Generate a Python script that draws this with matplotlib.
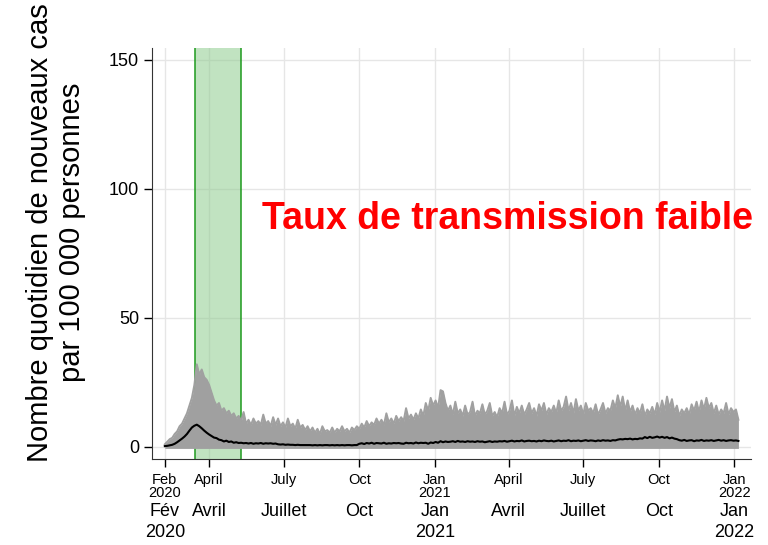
import sys
import numpy as np
import pandas as pd
import matplotlib
matplotlib.use('Agg')
import matplotlib.pyplot as plt
import matplotlib.transforms as mtransforms

# Daily new cases per 100 000, sampled every 3 days from 2020-02-07
START_DATE = '2020-02-07'

# upper edge of the gray band (spread of local rates)
upper = [
    1, 2, 3, 3.5, 5, 6, 8, 9, 11, 13, 16, 19,
    24, 32, 28, 30, 27, 26, 24,
    21, 18, 16, 17, 14, 15, 13, 14, 12, 13, 11, 12, 10,
    13.5, 9, 10.5, 8.5, 11, 9, 10, 8.5, 12.5, 9, 10, 8, 11.5, 8.5,
    11, 8, 9.5, 7.5, 11, 8, 9, 7, 10.5, 7.5, 8.5, 6.5, 8,
    6, 7.5, 5.5, 7, 5, 8, 6, 6.5, 5.5, 7.5, 5.5, 7, 6, 8, 6, 7, 5.5, 7.5, 6.5, 8,
    7, 9, 7.5, 10, 8, 9.5, 8.5, 11, 9, 10.5, 8.5, 13, 9.5, 11, 9,
    12, 10, 11.5, 10, 15, 11, 12.5, 10.5, 13, 11, 14.5, 12,
    17, 14, 19, 16, 18, 15, 22, 21.5, 17, 14,
    16, 12.5, 17.5, 13, 14.5, 12, 16, 12.5, 13.5, 17.5, 12, 14, 13, 16.5, 12.5, 14, 17, 12, 13.5, 11.5, 15,
    13, 17.5, 12.5, 14, 18, 12, 15.5, 13, 16, 12.5,
    14.5, 17, 13, 15, 12, 16.5, 14, 17, 12.5, 15,
    13.5, 16, 13, 18, 14, 15.5, 19.5, 14, 17, 13,
    18.5, 14, 16, 12.5, 17, 14, 15, 13, 16.5, 12.5,
    14.5, 17, 13, 15, 14, 18, 15, 20, 15.5, 19.5,
    14, 18, 13.5, 16, 12.5, 15, 13, 16.5, 12, 14.5,
    13, 15.5, 12.5, 17, 13.5, 18, 14, 19.5, 15, 18.5,
    13.5, 16, 12, 14.5, 13, 15, 12.5, 16.5, 14, 17.5,
    13.5, 18, 14.5, 19, 15, 17, 13, 16, 12.5, 14.5,
    13, 17, 12.5, 15, 13.5, 14.5, 10.5,
]

# national rate (black line)
national = [
    0.3, 0.4, 0.6, 0.8, 1.2, 1.8, 2.5, 3.2, 4, 5, 6.3, 7.5,
    8.2, 8.6, 8, 7.2, 6.3, 5.5, 4.8,
    4.2, 3.6, 3.4, 2.8, 2.6, 2.1, 2.4, 1.9, 2.1, 1.6, 1.8, 1.5, 1.6,
    1.4, 1.5, 1.3, 1.5, 1.2, 1.4, 1.3, 1.5, 1.2, 1.4, 1.3, 1.4, 1.2, 1.3,
    1.0, 0.9, 1.0, 0.8, 0.9, 0.8, 0.8, 0.7, 0.8, 0.7, 0.7, 0.7, 0.7,
    0.7, 0.6, 0.7, 0.6, 0.7, 0.6, 0.7, 0.7, 0.6, 0.7, 0.6, 0.7, 0.6, 0.7, 0.6, 0.7, 0.7, 0.6, 0.7, 0.7,
    1.2, 1.4, 1.1, 1.5, 1.3, 1.6, 1.2, 1.5, 1.4, 1.3, 1.6, 1.2, 1.4, 1.3, 1.5,
    1.4, 1.5, 1.3, 1.2, 1.6, 1.4, 1.5, 1.3, 1.7, 1.4, 1.6, 1.5,
    1.6, 1.2, 1.7, 1.5, 1.9, 1.6, 2.2, 1.8, 2.1, 1.9,
    2.0, 2.2, 1.9, 2.3, 2.0, 2.1, 1.9, 2.2, 2.0, 2.1, 1.9, 2.2, 2.0, 2.1, 1.8, 2.0, 2.2, 1.9, 2.1, 2.0, 2.2,
    2.1, 2.3, 2.0, 2.2, 2.4, 2.1, 2.3, 2.2, 2.5, 2.1,
    2.3, 2.4, 2.2, 2.3, 2.1, 2.4, 2.2, 2.5, 2.3, 2.2,
    2.4, 2.1, 2.3, 2.5, 2.2, 2.4, 2.3, 2.6, 2.2, 2.4,
    2.3, 2.5, 2.2, 2.4, 2.6, 2.3, 2.5, 2.4, 2.2, 2.5,
    2.3, 2.6, 2.4, 2.5, 2.3, 2.6, 2.5, 2.8, 3.0, 2.9,
    3.1, 3.0, 3.2, 2.9, 3.1, 3.0, 3.3, 3.2, 3.8, 3.4,
    3.9, 3.5, 3.7, 4.0, 3.6, 3.9, 3.5, 3.8, 3.3, 3.6,
    3.2, 3.0, 2.6, 2.4, 2.7, 2.3, 2.5, 2.6, 2.2, 2.5,
    2.4, 2.7, 2.3, 2.5, 2.4, 2.6, 2.3, 2.5, 2.7, 2.4,
    2.6, 2.3, 2.5, 2.6, 2.4, 2.5, 2.3,
]

tick_dates = ['2020-02-07', '2020-04-01', '2020-07-01', '2020-10-01', '2021-01-01',
              '2021-04-01', '2021-07-01', '2021-10-01', '2022-01-01']
tick_labels_en = ['Feb\n2020', 'April', 'July', 'Oct', 'Jan\n2021',
                  'April', 'July', 'Oct', 'Jan\n2022']
tick_labels_fr = ['Fév\n2020', 'Avril', 'Juillet', 'Oct', 'Jan\n2021',
                  'Avril', 'Juillet', 'Oct', 'Jan\n2022']

lockdown = ('2020-03-15', '2020-05-10')


def main() -> int:
    plt.rcParams['font.family'] = ['Liberation Sans', 'DejaVu Sans']

    dates = pd.date_range(START_DATE, periods=len(upper), freq='3D')
    upper_arr = np.asarray(upper, dtype=float)
    nat_arr = np.asarray(national, dtype=float)

    fig = plt.figure(figsize=(7.68, 5.45), dpi=100)
    ax = fig.add_axes([0.1975, 0.1578, 0.78, 0.7536])

    ax.grid(True, color='#e6e6e6', linewidth=1.0, zorder=0)
    ax.set_axisbelow(True)

    ax.axvspan(pd.Timestamp(lockdown[0]), pd.Timestamp(lockdown[1]),
               facecolor='#8fcc8f', alpha=0.55, edgecolor='none', zorder=1)
    for d in lockdown:
        ax.axvline(pd.Timestamp(d), color='#1e9a1e', linewidth=1.1, zorder=1.5)

    ax.fill_between(dates, -0.6, upper_arr, color='#a0a0a0', linewidth=0, zorder=2)
    ax.plot(dates, upper_arr, color='#a0a0a0', linewidth=1.4, zorder=2)
    ax.plot(dates, nat_arr, color='black', linewidth=1.5, zorder=3)

    ax.set_xlim(pd.Timestamp('2020-01-22'), pd.Timestamp('2022-01-21'))
    ax.set_ylim(-4.7, 154.5)
    ax.set_yticks([0, 50, 100, 150])
    ax.tick_params(axis='y', labelsize=13, length=6, width=1, pad=3)

    ticks = [pd.Timestamp(t) for t in tick_dates]
    ax.set_xticks(ticks)
    ax.set_xticklabels(tick_labels_en, fontsize=10.5, linespacing=0.95)
    ax.tick_params(axis='x', length=6, width=1, pad=4)

    trans = mtransforms.blended_transform_factory(ax.transData, ax.transAxes)
    for t, lab in zip(ticks, tick_labels_fr):
        ax.text(t, -0.108, lab, transform=trans, ha='center', va='top',
                fontsize=13, linespacing=1.25)

    for side in ['top', 'right']:
        ax.spines[side].set_visible(False)
    for side in ['left', 'bottom']:
        ax.spines[side].set_color('#333333')

    ax.text(pd.Timestamp('2021-03-30'), 88.5, 'Taux de transmission faible',
            color='red', fontsize=27, fontweight='bold', ha='center', va='center')

    fig.text(0.073, 0.574, 'Nombre quotidien de nouveaux cas\npar 100 000 personnes',
             rotation=90, ha='center', va='center', fontsize=21,
             multialignment='center', linespacing=1.2)

    fig.savefig('out.png', dpi=100)
    return 0


if __name__ == '__main__':
    sys.exit(main())
